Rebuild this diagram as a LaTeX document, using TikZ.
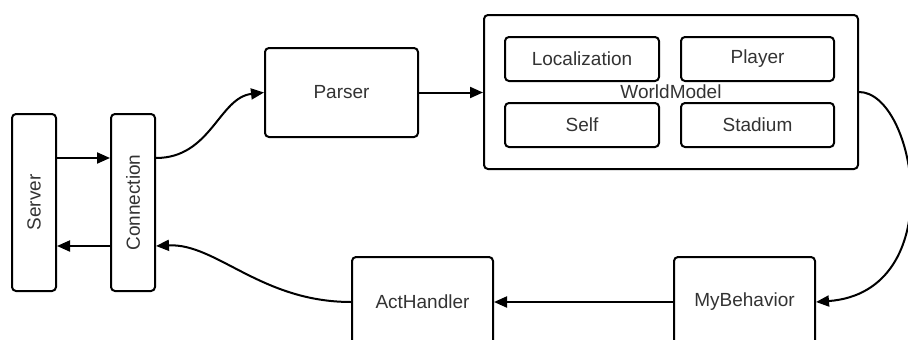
\documentclass[tikz,border=0pt]{standalone}
\usepackage{fontspec}
\setmainfont{Liberation Sans}
\usetikzlibrary{arrows.meta}
\begin{document}
\begin{tikzpicture}[x=1pt,y=-1pt,
  box/.style={draw=black, line width=2pt, rounded corners=4pt, fill=white, inner sep=0pt,
    font=\fontsize{19}{21}\selectfont, text=black!80},
  conn/.style={line width=2pt, -{Triangle[length=13pt,width=11pt]}}]
\useasboundingbox (0,0) rectangle (908,340);
\clip (0,0) rectangle (908,340);
\node[box, minimum width=44pt, minimum height=177pt] (srv) at (34,202.5) {\rotatebox{90}{Server}};
\node[box, minimum width=44pt, minimum height=177pt] (con) at (133,202.5) {\rotatebox{90}{Connection}};
\node[box, minimum width=153pt, minimum height=89pt] (par) at (341.5,92.5) {Parser};
\node[box, minimum width=374pt, minimum height=154pt] (wm) at (671,92) {WorldModel};
\node[box, minimum width=154pt, minimum height=44pt] (loc) at (582,59) {Localization};
\node[box, minimum width=153pt, minimum height=44pt] (ply) at (757.5,59) {Player};
\node[box, minimum width=154pt, minimum height=44pt] (slf) at (582,125) {Self};
\node[box, minimum width=153pt, minimum height=44pt] (std) at (757.5,125) {Stadium};
\node[box, minimum width=141pt, minimum height=90pt] (act) at (422.5,302) {ActHandler};
\node[box, minimum width=141pt, minimum height=90pt] (mb) at (744.5,302) {MyBehavior};
\draw[conn] ([yshift=44.5pt]srv.east) -- ([yshift=44.5pt]con.west);
\draw[conn] ([yshift=-43.5pt]con.west) -- ([yshift=-43.5pt]srv.east);
\draw[conn] ([yshift=44.5pt]con.east) .. controls +(55,0) and +(-45,5) .. (par.west);
\draw[conn] (par.east) -- (wm.west |- par.east);
\draw[conn] (wm.east) .. controls +(57,0) and +(135,-10) .. (mb.east);
\draw[conn] (mb.west) -- (act.east);
\draw[conn] (act.west) .. controls +(-90,0) and +(60,-3) .. ([yshift=-43.5pt]con.east);
\end{tikzpicture}
\end{document}
